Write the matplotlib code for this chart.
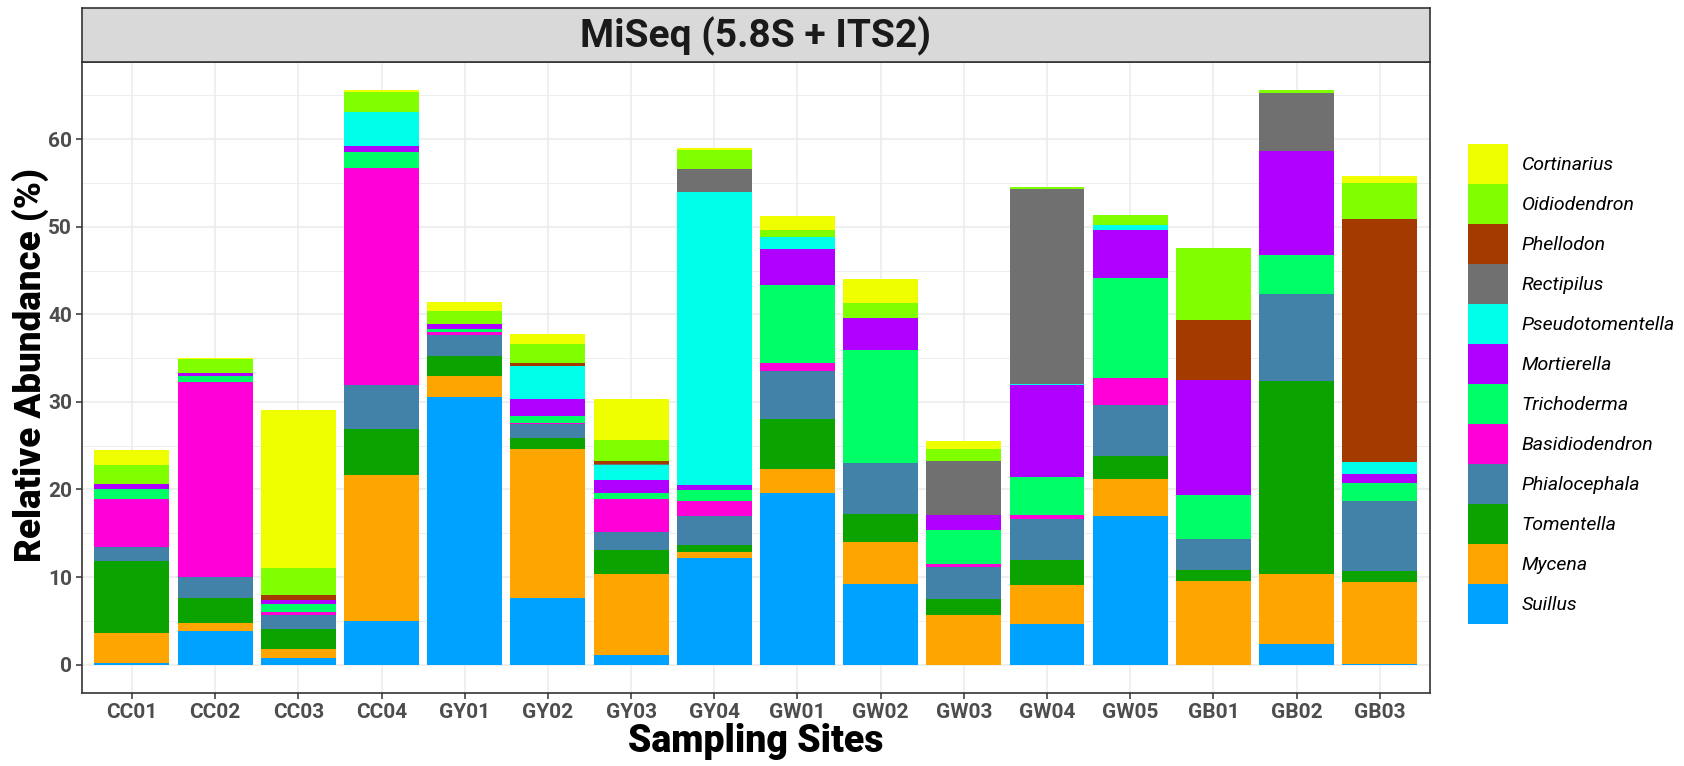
import numpy as np
import matplotlib.pyplot as plt
from matplotlib.patches import Patch
from matplotlib.ticker import MultipleLocator

plt.rcParams['font.family'] = ['Roboto', 'DejaVu Sans']

sites = ["CC01", "CC02", "CC03", "CC04", "GY01", "GY02", "GY03", "GY04",
         "GW01", "GW02", "GW03", "GW04", "GW05", "GB01", "GB02", "GB03"]

# relative abundance (%) of each genus per site, stacked bottom -> top
suillus          = [0.2, 3.8, 0.7, 4.95, 30.6, 7.66, 1.05, 12.2, 19.6, 9.15, 0, 4.6, 17.0, 0, 2.3, 0.1]
mycena           = [3.4, 0.9, 1.05, 16.65, 2.4, 16.94, 9.25, 0.7, 2.7, 4.85, 5.7, 4.46, 4.2, 9.6, 8.1, 9.3]
tomentella       = [8.2, 2.9, 2.35, 5.3, 2.2, 1.3, 2.8, 0.8, 5.8, 3.2, 1.8, 2.89, 2.65, 1.2, 22.0, 1.3]
phialocephala    = [1.6, 2.4, 1.6, 5.0, 2.5, 1.6, 2.1, 3.3, 5.4, 5.8, 3.6, 4.65, 5.85, 3.5, 9.9, 8.0]
basidiodendron   = [5.5, 22.3, 0.3, 24.8, 0.3, 0.1, 3.7, 1.7, 1.0, 0, 0.4, 0.5, 3.0, 0.1, 0, 0]
trichoderma      = [1.1, 0.7, 0.9, 1.8, 0.3, 0.8, 0.75, 1.2, 8.8, 12.9, 3.9, 4.3, 11.5, 5.0, 4.5, 2.0]
mortierella      = [0.6, 0.3, 0.5, 0.7, 0.6, 1.9, 1.45, 0.6, 4.2, 3.7, 1.7, 10.5, 5.4, 13.1, 11.9, 1.1]
pseudotomentella = [0, 0, 0, 3.9, 0, 3.8, 1.65, 33.5, 1.3, 0, 0, 0.1, 0.6, 0, 0, 1.3]
rectipilus       = [0, 0, 0, 0, 0, 0, 0.2, 2.6, 0, 0, 6.2, 22.3, 0, 0, 6.6, 0]
phellodon        = [0, 0, 0.5, 0, 0, 0.3, 0.25, 0, 0, 0, 0, 0, 0, 6.8, 0, 27.8]
oidiodendron     = [2.2, 1.6, 3.1, 2.3, 1.5, 2.2, 2.4, 2.2, 0.8, 1.7, 1.3, 0.2, 1.1, 8.3, 0.3, 4.1]
cortinarius      = [1.7, 0.1, 18.1, 0.2, 1.0, 1.2, 4.7, 0.2, 1.6, 2.7, 0.9, 0, 0, 0, 0, 0.8]

genera = ["Suillus", "Mycena", "Tomentella", "Phialocephala", "Basidiodendron",
          "Trichoderma", "Mortierella", "Pseudotomentella", "Rectipilus",
          "Phellodon", "Oidiodendron", "Cortinarius"]
values = [suillus, mycena, tomentella, phialocephala, basidiodendron, trichoderma,
          mortierella, pseudotomentella, rectipilus, phellodon, oidiodendron, cortinarius]
colors = ["#00A2FF", "#FFA500", "#0BA300", "#4282A8", "#FF00D8", "#00FF66",
          "#B000FF", "#00FFEA", "#707070", "#A33A00", "#80FF00", "#F0FF00"]

fig = plt.figure(figsize=(16.84, 7.66), dpi=100)
ax = fig.add_axes([0.0487, 0.0949, 0.8003, 0.8248])

x = np.arange(1, len(sites) + 1)
bottom = np.zeros(len(sites))
for name, vals, col in zip(genera, values, colors):
    vals = np.array(vals, dtype=float)
    ax.bar(x, vals, 0.9, bottom=bottom, color=col, label=name, zorder=2)
    bottom += vals

top = bottom.max()
ax.set_xlim(0.4, len(sites) + 0.6)
ax.set_ylim(-0.05 * top, top * 1.05)
ax.set_xticks(x, sites)
ax.yaxis.set_major_locator(MultipleLocator(10))
ax.yaxis.set_minor_locator(MultipleLocator(5))
ax.grid(which='major', color='#EBEBEB', lw=1.1, zorder=0)
ax.grid(which='minor', axis='y', color='#EBEBEB', lw=0.6, zorder=0)
ax.set_axisbelow(True)
ax.tick_params(axis='both', which='major', length=4, width=1.1, color='#333333',
               labelsize=15, labelcolor='#4D4D4D', pad=3)
ax.tick_params(axis='y', which='minor', length=0)
for lab in ax.get_xticklabels() + ax.get_yticklabels():
    lab.set_fontweight('bold')
for sp in ax.spines.values():
    sp.set_color('#333333')
    sp.set_linewidth(1.2)

# facet strip
strip = fig.add_axes([0.0487, 0.9197, 0.8003, 0.0705])
strip.set_facecolor('#D9D9D9')
strip.set_xticks([])
strip.set_yticks([])
for sp in strip.spines.values():
    sp.set_color('#333333')
    sp.set_linewidth(1.2)
strip.text(0.5, 0.47, "MiSeq (5.8S + ITS2)", ha='center', va='center',
           fontsize=28, fontweight='bold', color='#1A1A1A', transform=strip.transAxes)

fig.text(0.449, 0.032, "Sampling Sites", ha='center', va='center',
         fontsize=27, fontweight='black', color='black')
fig.text(0.018, 0.523, "Relative Abundance (%)", ha='center', va='center', rotation=90,
         fontsize=26.5, fontweight='black', color='black')

handles = [Patch(facecolor=c, label=g) for g, c in zip(genera, colors)][::-1]
fig.legend(handles=handles, loc='center left', bbox_to_anchor=(0.8658, 0.4987),
           frameon=False, prop={'style': 'italic', 'size': 14},
           handlelength=2.06, handleheight=2.79, labelspacing=0,
           handletextpad=0.72, borderpad=0)

fig.savefig("out.png", dpi=100)
